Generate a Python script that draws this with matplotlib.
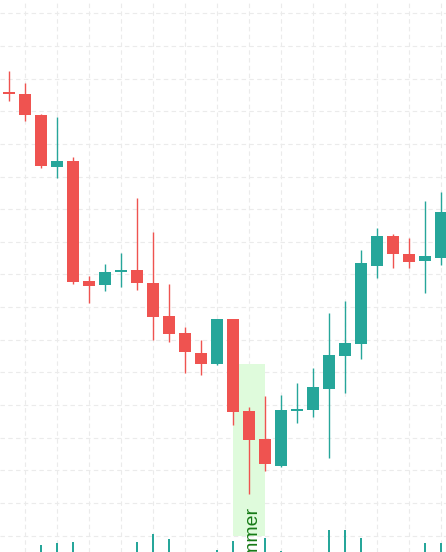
import numpy as np
import matplotlib
matplotlib.use("Agg")
import matplotlib.pyplot as plt
from matplotlib.patches import Rectangle

# OHLC values (one candle per bar)
opens = [167.95, 167.64, 164.50, 156.51, 157.38, 139.00, 138.44, 140.38, 140.69, 138.65,
         133.64, 131.00, 127.93, 126.29, 133.19, 119.10, 114.81, 110.72, 119.14, 119.25,
         122.47, 127.57, 129.36, 141.30, 145.90, 143.14, 142.11, 142.57]
highs = [171.21, 169.28, 164.60, 164.17, 157.95, 139.77, 141.61, 143.29, 151.72, 146.55,
         138.55, 132.01, 129.97, 133.19, 133.19, 119.76, 121.39, 121.55, 123.43, 125.64,
         134.06, 135.94, 143.75, 147.08, 146.20, 145.54, 151.26, 152.68]
lows = [166.62, 163.55, 156.26, 154.82, 138.50, 135.68, 137.52, 138.13, 137.63, 129.97,
        129.71, 124.96, 124.61, 126.14, 116.95, 106.39, 109.95, 110.57, 117.21, 118.22,
        111.85, 121.90, 127.06, 139.51, 141.04, 141.04, 137.21, 141.46]
closes = [167.57, 164.47, 156.66, 157.38, 138.90, 138.29, 140.38, 140.69, 138.74, 133.45,
          130.89, 128.13, 126.29, 133.19, 118.99, 114.66, 110.98, 119.25, 119.40, 122.73,
          127.67, 129.51, 141.81, 145.90, 143.14, 141.96, 142.83, 149.57]
volumes = [0, 0, 7, 9, 10, 0, 0, 0, 10, 18, 13, 0, 0, 2, 11, 0, 14, 1, 0, 0,
           22, 22, 14, 0, 0, 0, 9, 9]

# pattern annotation
pattern_label = "Hammer"
pattern_start, pattern_end = 14, 16
pattern_low, pattern_high = 100, 126.3
label_price = 104.55

up_color = "#26a69a"
down_color = "#ef5350"

x = np.arange(len(opens))
o = np.array(opens)
c = np.array(closes)
colors = [up_color if cc >= oo else down_color for oo, cc in zip(o, c)]

fig = plt.figure(figsize=(4.46, 5.52), dpi=100)
ax = fig.add_axes([0, 0, 1, 1])
ax.set_xlim(-0.5625, 27.3125)
ax.set_ylim(97.5, 182.04)

# dashed grid
ax.set_xticks(np.arange(1, 28, 2))
ax.set_yticks(np.arange(100, 181, 5))
ax.grid(True, color="#ebebeb", linestyle=(0, (4, 3)), linewidth=0.8)
ax.set_axisbelow(True)
ax.tick_params(length=0, labelbottom=False, labelleft=False)
for s in ax.spines.values():
    s.set_visible(False)

# highlighted pattern zone
ax.add_patch(Rectangle((pattern_start, pattern_low), pattern_end - pattern_start,
                       pattern_high - pattern_low, facecolor="#dffbdc",
                       edgecolor="none", zorder=1))

# candles
ax.vlines(x, lows, highs, colors=colors, linewidth=1.0, zorder=2)
ax.bar(x, np.abs(c - o), bottom=np.minimum(o, c), width=0.69,
       color=colors, zorder=3)

ax.text(15.15, label_price, pattern_label, rotation=90,
        ha="center", va="top", color="#167a16", fontsize=14,
        family="Liberation Sans", zorder=5)

# volume on its own scale
ax2 = ax.twinx()
ax2.set_ylim(0, 552)
ax2.bar(x, volumes, width=0.13, color=up_color, zorder=2)
ax2.axis("off")

fig.savefig("out.png", dpi=100)
